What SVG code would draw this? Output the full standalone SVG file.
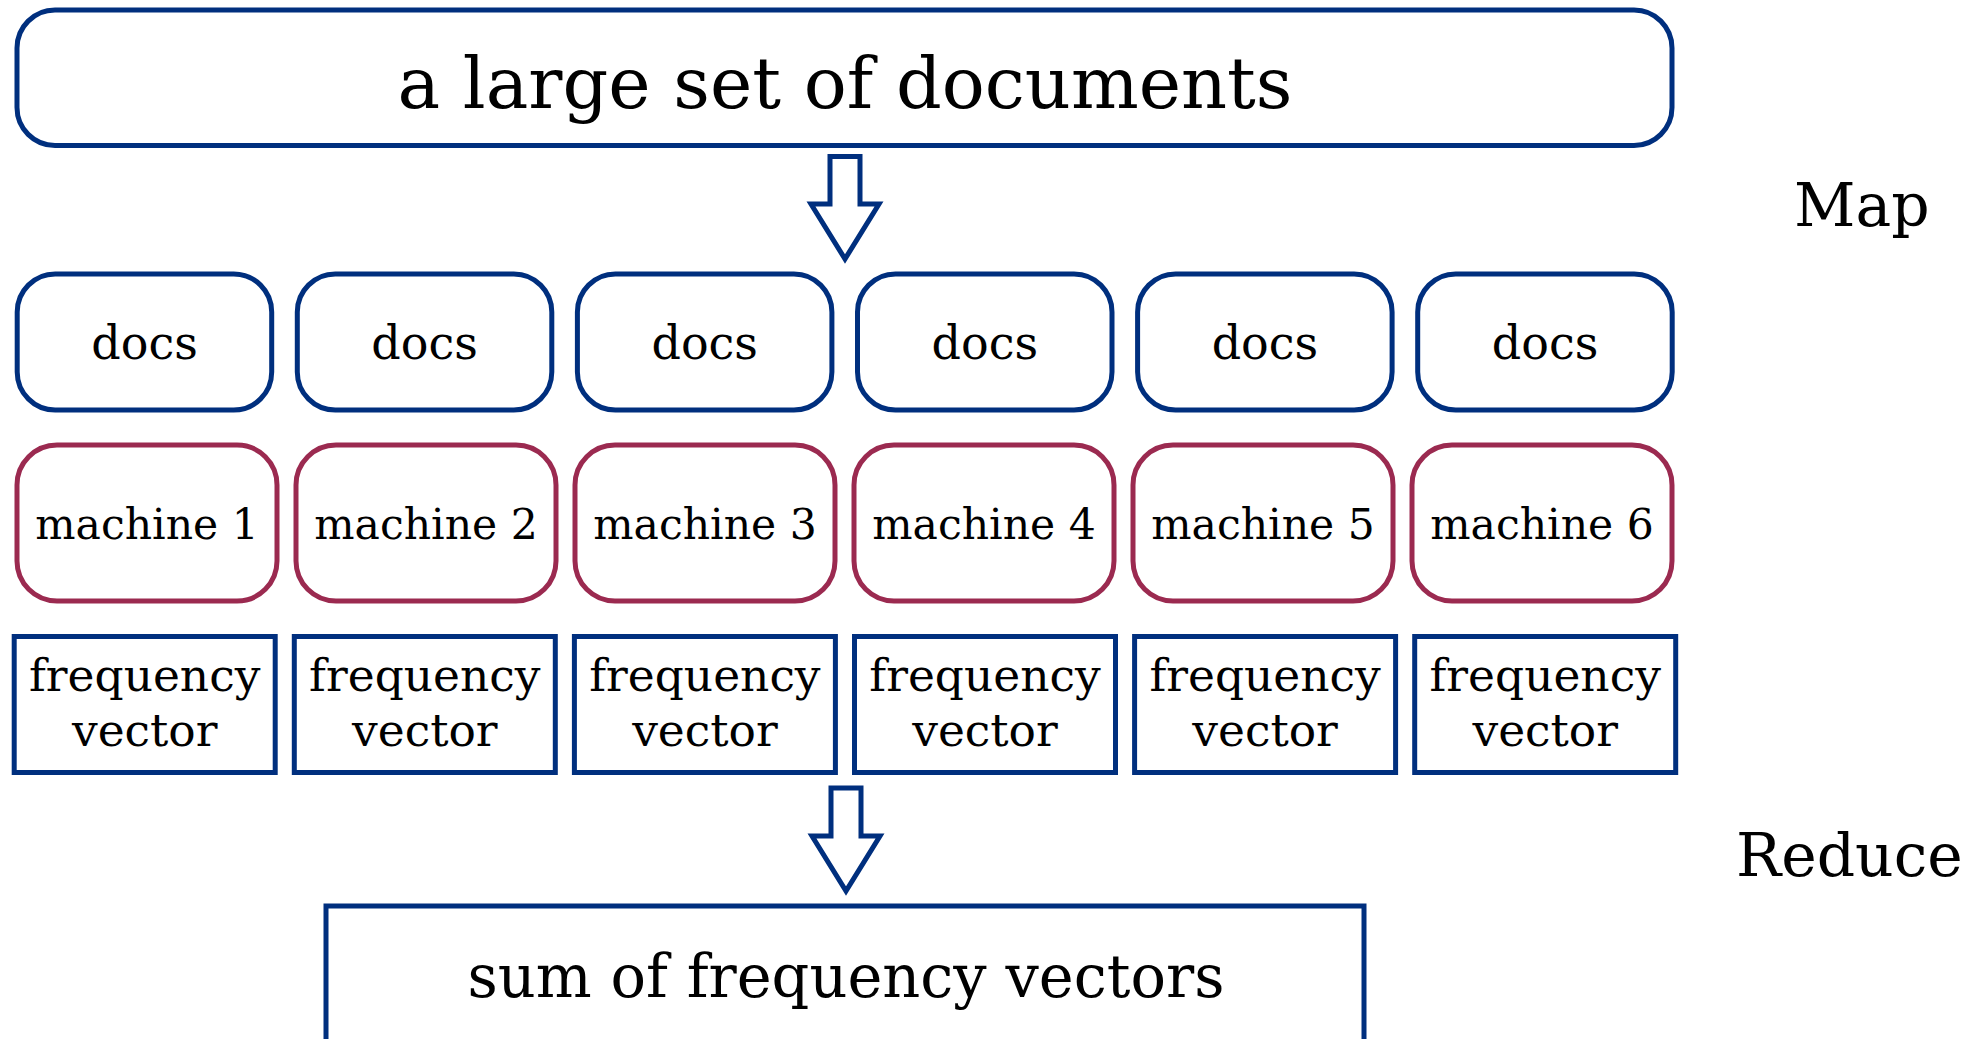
<svg xmlns="http://www.w3.org/2000/svg" width="1979" height="1039" viewBox="0 0 1979 1039">
<style>
  .bg { fill: #ffffff; }
  .blue { fill: #ffffff; stroke: #002f7e; stroke-width: 5; }
  .red { fill: #ffffff; stroke: #9b2a50; stroke-width: 5; }
  .arrow { fill: #ffffff; stroke: #002f7e; stroke-width: 5; stroke-linejoin: miter; stroke-miterlimit: 10; }
  text { font-family: "DejaVu Serif", "Liberation Serif", serif; fill: #000000; text-anchor: middle; }
  .title { font-size: 71.5px; }
  .docs { font-size: 46px; }
  .mach { font-size: 42.5px; }
  .freq { font-size: 45.5px; }
  .sum { font-size: 59px; }
  .phase { font-size: 60px; text-anchor: start; }
</style>
<rect class="bg" x="0" y="0" width="1979" height="1039"/>

<g id="documents">
  <rect class="blue" x="17" y="10" width="1655" height="135.5" rx="38" ry="38"/>
  <text class="title" x="845" y="108">a large set of documents</text>
</g>

<g id="label-map"><text class="phase" x="1794" y="226">Map</text></g>
<g id="label-reduce"><text class="phase" x="1736" y="876">Reduce</text></g>

<g id="docs1"><rect class="blue" x="17.2" y="274" width="254.5" height="136" rx="38" ry="38"/><text class="docs" x="144.5" y="358.7">docs</text></g>
<g id="docs2"><rect class="blue" x="297.3" y="274" width="254.5" height="136" rx="38" ry="38"/><text class="docs" x="424.6" y="358.7">docs</text></g>
<g id="docs3"><rect class="blue" x="577.4" y="274" width="254.5" height="136" rx="38" ry="38"/><text class="docs" x="704.7" y="358.7">docs</text></g>
<g id="docs4"><rect class="blue" x="857.5" y="274" width="254.5" height="136" rx="38" ry="38"/><text class="docs" x="984.8" y="358.7">docs</text></g>
<g id="docs5"><rect class="blue" x="1137.6" y="274" width="254.5" height="136" rx="38" ry="38"/><text class="docs" x="1264.9" y="358.7">docs</text></g>
<g id="docs6"><rect class="blue" x="1417.7" y="274" width="254.5" height="136" rx="38" ry="38"/><text class="docs" x="1545" y="358.7">docs</text></g>

<g id="machine1"><rect class="red" x="17" y="445" width="260" height="156" rx="40" ry="40"/><text class="mach" x="147" y="539.4">machine 1</text></g>
<g id="machine2"><rect class="red" x="296" y="445" width="260" height="156" rx="40" ry="40"/><text class="mach" x="426" y="539.4">machine 2</text></g>
<g id="machine3"><rect class="red" x="575" y="445" width="260" height="156" rx="40" ry="40"/><text class="mach" x="705" y="539.4">machine 3</text></g>
<g id="machine4"><rect class="red" x="854" y="445" width="260" height="156" rx="40" ry="40"/><text class="mach" x="984" y="539.4">machine 4</text></g>
<g id="machine5"><rect class="red" x="1133" y="445" width="260" height="156" rx="40" ry="40"/><text class="mach" x="1263" y="539.4">machine 5</text></g>
<g id="machine6"><rect class="red" x="1412" y="445" width="260" height="156" rx="40" ry="40"/><text class="mach" x="1542" y="539.4">machine 6</text></g>

<g id="freq1"><rect class="blue" x="14.2" y="636.5" width="261" height="136"/><text class="freq" x="144.7" y="691">frequency</text><text class="freq" x="144.7" y="746.3">vector</text></g>
<g id="freq2"><rect class="blue" x="294.3" y="636.5" width="261" height="136"/><text class="freq" x="424.8" y="691">frequency</text><text class="freq" x="424.8" y="746.3">vector</text></g>
<g id="freq3"><rect class="blue" x="574.4" y="636.5" width="261" height="136"/><text class="freq" x="704.9" y="691">frequency</text><text class="freq" x="704.9" y="746.3">vector</text></g>
<g id="freq4"><rect class="blue" x="854.5" y="636.5" width="261" height="136"/><text class="freq" x="985" y="691">frequency</text><text class="freq" x="985" y="746.3">vector</text></g>
<g id="freq5"><rect class="blue" x="1134.6" y="636.5" width="261" height="136"/><text class="freq" x="1265.1" y="691">frequency</text><text class="freq" x="1265.1" y="746.3">vector</text></g>
<g id="freq6"><rect class="blue" x="1414.7" y="636.5" width="261" height="136"/><text class="freq" x="1545.2" y="691">frequency</text><text class="freq" x="1545.2" y="746.3">vector</text></g>

<g id="sum">
  <rect class="blue" x="326" y="906" width="1038" height="160"/>
  <text class="sum" x="846" y="997">sum of frequency vectors</text>
</g>

<g id="connectors">
  <path class="arrow" d="M830,156.5 H860 V204 H879 L845,259 L811,204 H830 Z"/>
  <path class="arrow" d="M831,788 H861 V836 H880 L846,891 L812,836 H831 Z"/>
</g>
</svg>
